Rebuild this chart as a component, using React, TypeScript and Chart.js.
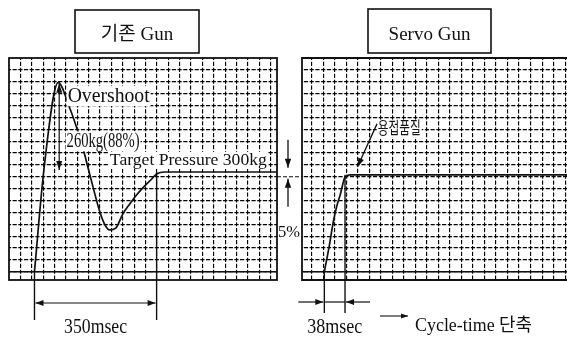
import React, { useEffect, useRef } from 'react';
import { Chart, registerables } from 'chart.js';

Chart.register(...registerables);

// ---------------- data ----------------
const leftTitle = '기존 Gun';
const rightTitle = 'Servo Gun';

// 기존 Gun : pressing force response (time in ms from panel edge, force in kg)
const leftTimeMs = [73, 100, 141, 174, 193, 211, 225, 245, 260, 274, 288, 306, 326, 346, 366, 389, 409, 423, 446, 768];
const leftForceKg = [0, 322, 597, 517, 458, 395, 335, 250, 190, 150, 132, 138, 182, 214, 243, 271, 293, 309, 315, 315];

// Servo Gun : pressing force response
const rightTimeMs = [41, 50, 57.5, 64, 70, 75, 79, 88, 487];
const rightForceKg = [0, 81, 158, 208, 242, 277, 299, 306, 306];

const targetKg = 300;
const leftRiseStartMs = 73;
const leftSettleMs = 423;
const rightRiseStartMs = 41;
const rightSettleMs = 79;

const overshootLabel = 'Overshoot';
const overshootValueLabel = '260kg(88%)';
const targetLabel = 'Target Pressure 300kg';
const leftSpanLabel = '350msec';
const rightSpanLabel = '38msec';
const bandLabel = '5%';
const qualityLabel = '용접품질';
const cycleLabel = 'Cycle-time 단축';

// grid ticks
const yGridKg = Array.from({ length: 18 }, (_, k) => k * 37.5);
const leftGridMs = Array.from({ length: 23 }, (_, k) => (k + 1) * 32.6);
const rightGridMs = Array.from({ length: 23 }, (_, k) => 17.8 + k * 21.15);

const leftMaxMs = 768;
const rightMaxMs = 486.5;
const yMinKg = -26;
const yMaxKg = 675;

// ---------------- drawing helpers ----------------
const INK = '#111111';
const SERIF = '"Liberation Serif", "DejaVu Serif", "Noto Sans CJK KR", serif';
const KFONT = '"Noto Sans CJK KR", "Liberation Sans", sans-serif';

type Txt = { text: string; x: number; y: number; size: number; width?: number; align?: 'left' | 'center'; font?: string };

function measure(ctx: CanvasRenderingContext2D, t: Txt) {
  ctx.font = `${t.size}px ${t.font ?? SERIF}`;
  const w0 = ctx.measureText(t.text).width;
  const sx = t.width ? t.width / w0 : 1;
  const w = w0 * sx;
  const left = t.align === 'center' ? t.x - w / 2 : t.x;
  return { left, w, sx };
}
function drawTxt(ctx: CanvasRenderingContext2D, t: Txt) {
  ctx.save();
  const { left, sx } = measure(ctx, t);
  ctx.translate(left, t.y);
  ctx.scale(sx, 1);
  ctx.fillStyle = INK;
  ctx.textAlign = 'left';
  ctx.textBaseline = 'alphabetic';
  ctx.fillText(t.text, 0, 0);
  ctx.restore();
}
function clearTxt(ctx: CanvasRenderingContext2D, t: Txt) {
  ctx.save();
  const { left, w } = measure(ctx, t);
  ctx.fillStyle = '#fff';
  ctx.fillRect(left - 1, t.y - t.size * 0.78, w + 2, t.size * 1.0);
  ctx.restore();
}
function seg(ctx: CanvasRenderingContext2D, x1: number, y1: number, x2: number, y2: number, lw = 1.2, dash: number[] = []) {
  ctx.save();
  ctx.strokeStyle = INK;
  ctx.lineWidth = lw;
  ctx.setLineDash(dash);
  ctx.beginPath();
  ctx.moveTo(x1, y1);
  ctx.lineTo(x2, y2);
  ctx.stroke();
  ctx.restore();
}
function head(ctx: CanvasRenderingContext2D, x1: number, y1: number, x2: number, y2: number, len = 8, half = 3) {
  const a = Math.atan2(y2 - y1, x2 - x1);
  const c = Math.cos(a), s = Math.sin(a);
  ctx.save();
  ctx.fillStyle = INK;
  ctx.beginPath();
  ctx.moveTo(x2, y2);
  ctx.lineTo(x2 - len * c + half * s, y2 - len * s - half * c);
  ctx.lineTo(x2 - len * c - half * s, y2 - len * s + half * c);
  ctx.closePath();
  ctx.fill();
  ctx.restore();
}
function arrow(ctx: CanvasRenderingContext2D, x1: number, y1: number, x2: number, y2: number, both = false, lw = 1.2, len = 8, half = 3) {
  seg(ctx, x1, y1, x2, y2, lw);
  head(ctx, x1, y1, x2, y2, len, half);
  if (both) head(ctx, x2, y2, x1, y1, len, half);
}
function titleBox(ctx: CanvasRenderingContext2D, text: string, l: number, t: number, r: number, b: number) {
  ctx.save();
  ctx.fillStyle = '#fff';
  ctx.fillRect(l, t, r - l, b - t);
  ctx.strokeStyle = INK;
  ctx.lineWidth = 1.6;
  ctx.strokeRect(l, t, r - l, b - t);
  ctx.restore();
  drawTxt(ctx, { text, x: (l + r) / 2, y: b - 13.5, size: 19, align: 'center' });
}

// ---------------- plugins ----------------
function leftLabels(chart: any): Txt[] {
  const { x, y } = chart.scales;
  return [
    { text: overshootLabel, x: x.getPixelForValue(168), y: y.getPixelForValue(537), size: 20, width: 82 },
    { text: overshootValueLabel, x: x.getPixelForValue(165), y: y.getPixelForValue(394), size: 20, width: 73 },
    { text: targetLabel, x: x.getPixelForValue(289), y: y.getPixelForValue(337), size: 17, width: 157 },
  ];
}
function rightLabels(chart: any): Txt[] {
  const { x, y } = chart.scales;
  return [{ text: qualityLabel, x: x.getPixelForValue(139), y: y.getPixelForValue(436), size: 17, width: 43, font: KFONT }];
}

const leftPlugin = {
  id: 'leftAnnot',
  beforeDatasetsDraw(chart: any) {
    const { ctx, chartArea: a, scales } = chart;
    const y0 = scales.y.getPixelForValue(0);
    seg(ctx, a.left, y0, a.right, y0, 1.6);
  },
  afterDatasetsDraw(chart: any) {
    leftLabels(chart).forEach((t) => clearTxt(chart.ctx, t));
  },
  afterDraw(chart: any) {
    const { ctx, chartArea: a, scales } = chart;
    const X = (v: number) => scales.x.getPixelForValue(v);
    const Y = (v: number) => scales.y.getPixelForValue(v);
    ctx.save();
    ctx.strokeStyle = INK;
    ctx.lineWidth = 1.8;
    ctx.strokeRect(a.left, a.top, a.right - a.left, a.bottom - a.top);
    ctx.restore();
    titleBox(ctx, leftTitle, a.left + 66, 10, a.left + 190, 53);

    // overshoot indicator
    const pk = leftForceKg.indexOf(Math.max(...leftForceKg));
    const plateau = leftForceKg[leftForceKg.length - 1];
    const px = X(leftTimeMs[pk]) + 1;
    arrow(ctx, px, Y(plateau) - 2, px, Y(leftForceKg[pk]) + 1, true, 1.2, 9, 3);
    leftLabels(chart).forEach((t) => drawTxt(ctx, t));

    // settle time
    const xs = X(leftRiseStartMs), xe = X(leftSettleMs);
    seg(ctx, xs, Y(0), xs, a.bottom + 40, 1.4);
    seg(ctx, xe, Y(plateau), xe, a.bottom + 40, 1.4);
    arrow(ctx, xs + 1, a.bottom + 23, xe - 1, a.bottom + 23, true, 1.2, 8, 3);
    drawTxt(ctx, { text: leftSpanLabel, x: (xs + xe) / 2, y: a.bottom + 53, size: 20, width: 63, align: 'center' });

    // target band between panels
    const ty = Y(targetKg);
    seg(ctx, a.right, ty, a.right + 26, ty, 1.1, [4, 2]);
    const gx = a.right + 11;
    arrow(ctx, gx, ty - 37, gx, ty - 9, false, 1.3, 9, 3.2);
    arrow(ctx, gx, ty + 30, gx, ty + 2, false, 1.3, 9, 3.2);
    drawTxt(ctx, { text: bandLabel, x: a.right + 1, y: ty + 60, size: 16, width: 22 });
  },
};

const rightPlugin = {
  id: 'rightAnnot',
  beforeDatasetsDraw(chart: any) {
    const { ctx, chartArea: a, scales } = chart;
    const y0 = scales.y.getPixelForValue(0);
    seg(ctx, a.left, y0, a.right, y0, 1.6);
  },
  afterDatasetsDraw(chart: any) {
    rightLabels(chart).forEach((t) => clearTxt(chart.ctx, t));
  },
  afterDraw(chart: any) {
    const { ctx, chartArea: a, scales } = chart;
    const X = (v: number) => scales.x.getPixelForValue(v);
    const Y = (v: number) => scales.y.getPixelForValue(v);
    ctx.save();
    ctx.strokeStyle = INK;
    ctx.lineWidth = 1.8;
    ctx.beginPath();
    ctx.moveTo(a.right + 2, a.top);
    ctx.lineTo(a.left, a.top);
    ctx.lineTo(a.left, a.bottom);
    ctx.lineTo(a.right + 2, a.bottom);
    ctx.stroke();
    ctx.restore();
    titleBox(ctx, rightTitle, a.left + 66, 9, a.left + 189, 53);

    rightLabels(chart).forEach((t) => drawTxt(ctx, t));
    arrow(ctx, X(137.7), Y(467), X(101.7), Y(331), false, 1.3, 9, 3);

    const plateau = rightForceKg[rightForceKg.length - 1];
    const xs = X(rightRiseStartMs), xe = X(rightSettleMs);
    seg(ctx, xs, Y(0), xs, a.bottom + 33, 1.4);
    seg(ctx, xe, Y(plateau), xe, a.bottom + 33, 1.4);
    seg(ctx, xs, a.bottom + 22, xe, a.bottom + 22, 1.2);
    arrow(ctx, xs - 26, a.bottom + 22, xs - 1, a.bottom + 22, false, 1.2, 8, 3);
    arrow(ctx, xe + 25, a.bottom + 22, xe + 1, a.bottom + 22, false, 1.2, 8, 3);
    drawTxt(ctx, { text: rightSpanLabel, x: (xs + xe) / 2, y: a.bottom + 53, size: 20, width: 55, align: 'center' });
    arrow(ctx, xe + 35, a.bottom + 36, xe + 63, a.bottom + 36, false, 1.1, 7, 2.5);
    drawTxt(ctx, { text: cycleLabel, x: xe + 70, y: a.bottom + 51, size: 18, width: 117 });
  },
};

// ---------------- chart config ----------------
function makeConfig(times: number[], kgs: number[], xMax: number, xTicks: number[], xDashOffset: number, xPeriod: number, padding: any, plugin: any): any {
  return {
    type: 'line',
    data: {
      datasets: [
        {
          data: times.map((t, i) => ({ x: t, y: kgs[i] })),
          borderColor: INK,
          borderWidth: 1.7,
          pointRadius: 0,
          fill: false,
          cubicInterpolationMode: 'monotone',
        },
      ],
    },
    options: {
      responsive: false,
      animation: false,
      events: [],
      layout: { padding },
      plugins: { legend: { display: false }, tooltip: { enabled: false }, title: { display: false } },
      scales: {
        x: {
          type: 'linear',
          min: 0,
          max: xMax,
          afterBuildTicks: (ax: any) => {
            ax.ticks = xTicks.map((v) => ({ value: v }));
          },
          ticks: { display: false },
          grid: { color: '#000', lineWidth: 1.15, drawTicks: false },
          border: { display: false, dash: [4.2, 5.938 - 4.2], dashOffset: 2.1 },
        },
        y: {
          type: 'linear',
          min: yMinKg,
          max: yMaxKg,
          afterBuildTicks: (ax: any) => {
            ax.ticks = yGridKg.map((v) => ({ value: v }));
          },
          ticks: { display: false },
          grid: { color: '#000', lineWidth: 1.15, drawTicks: false },
          border: { display: false, dash: [4.2, xPeriod - 4.2], dashOffset: xDashOffset },
        },
      },
    },
    plugins: [plugin],
  };
}

export default function App() {
  const leftRef = useRef<HTMLCanvasElement>(null);
  const rightRef = useRef<HTMLCanvasElement>(null);
  useEffect(() => {
    const c1 = new Chart(
      leftRef.current as HTMLCanvasElement,
      makeConfig(leftTimeMs, leftForceKg, leftMaxMs, leftGridMs, 2.1, 5.688, { left: 9, right: 290, top: 58, bottom: 61 }, leftPlugin)
    );
    const c2 = new Chart(
      rightRef.current as HTMLCanvasElement,
      makeConfig(rightTimeMs, rightForceKg, rightMaxMs, rightGridMs, 3.92, 5.76, { left: 302, right: 0, top: 58, bottom: 61 }, rightPlugin)
    );
    return () => {
      c1.destroy();
      c2.destroy();
    };
  }, []);
  return (
    <div style={{ position: 'fixed', left: 0, top: 0, width: 567, height: 341, background: '#fff', overflow: 'hidden' }}>
      <canvas ref={leftRef} width={567} height={341} style={{ position: 'absolute', left: 0, top: 0 }} />
      <canvas ref={rightRef} width={567} height={341} style={{ position: 'absolute', left: 0, top: 0 }} />
    </div>
  );
}
